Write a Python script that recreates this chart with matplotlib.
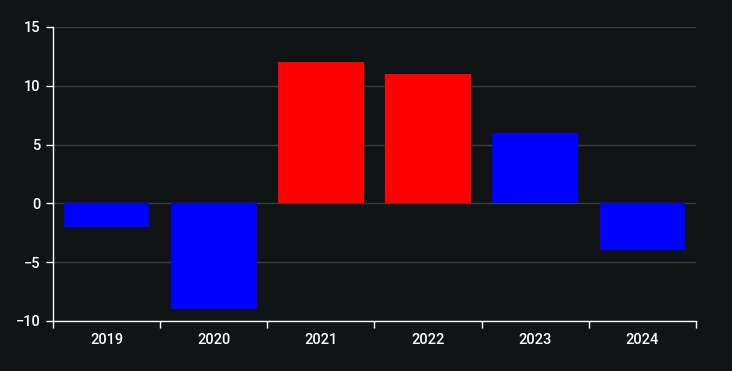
import numpy as np
import matplotlib.pyplot as plt

years = ["2019", "2020", "2021", "2022", "2023", "2024"]
values = [-2, -9, 12, 11, 6, -4]
colors = ["#0000ff", "#0000ff", "#ff0000", "#ff0000", "#0000ff", "#0000ff"]

bg = "#111417"
plt.rcParams['font.family'] = ['Roboto', 'DejaVu Sans']
plt.rcParams['font.weight'] = 'medium'

fig = plt.figure(figsize=(7.32, 3.71), dpi=100, facecolor=bg)
ax = fig.add_axes([53 / 732, 1 - 321 / 371, 643 / 732, 294 / 371])
ax.set_facecolor(bg)

x = np.arange(len(years))
ax.bar(x, values, width=0.8, color=colors, zorder=3)

ax.set_xlim(-0.5, len(years) - 0.5)
ax.set_ylim(-10, 15)
ax.set_yticks([-10, -5, 0, 5, 10, 15])
ax.set_yticklabels(["\u221210", "\u22125", "0", "5", "10", "15"])
ax.grid(axis='y', color='#3a3d40', linewidth=1, zorder=0)

ax.set_xticks(x)
ax.set_xticklabels(years)
ax.set_xticks(np.arange(-0.5, len(years)), minor=True)
ax.tick_params(axis='x', which='major', length=0, pad=9, colors='white', labelsize=10.5)
ax.tick_params(axis='x', which='minor', length=5, width=1, colors='white')
ax.tick_params(axis='y', length=5, width=1, colors='white', labelsize=10.5, pad=4)

for s in ['top', 'right']:
    ax.spines[s].set_visible(False)
for s in ['left', 'bottom']:
    ax.spines[s].set_color('white')
    ax.spines[s].set_linewidth(1)

fig.savefig("out.png", dpi=100, facecolor=bg)
